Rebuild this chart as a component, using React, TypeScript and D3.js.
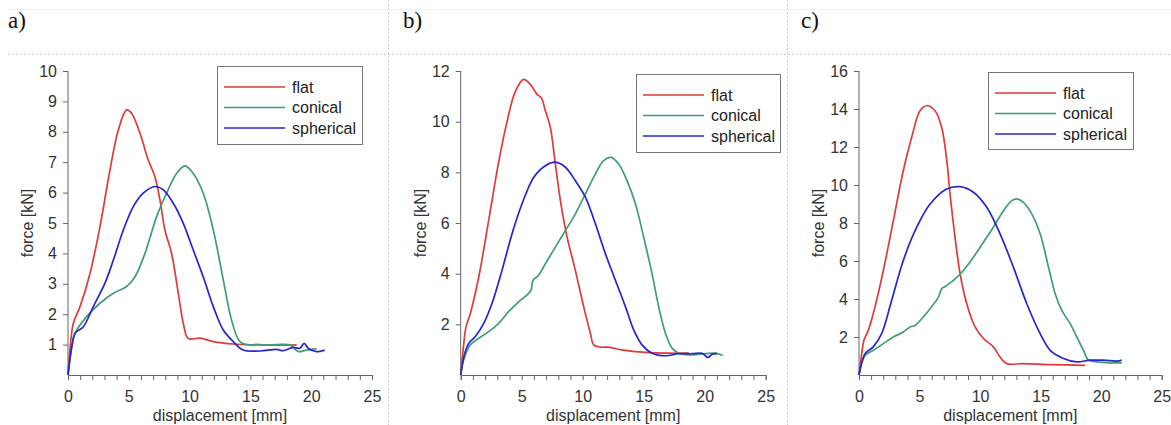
import React, { useEffect, useRef } from "react";
import * as d3 from "d3";

type Pt = [number, number];

// displacement [mm], force [kN]
const aFlat: Pt[] = [
  [0, 0], [0.2, 1.0], [0.44, 1.7], [0.99, 2.25], [1.81, 3.34], [2.63, 4.88], [3.45, 6.74],
  [4.14, 8.06], [4.82, 8.72], [5.23, 8.61], [5.92, 7.95], [6.6, 7.07], [7.15, 6.52],
  [7.56, 5.76], [7.97, 4.77], [8.52, 4.0], [9.07, 2.69], [9.48, 1.7], [9.89, 1.2],
  [10.85, 1.21], [11.95, 1.1], [13.59, 1.02], [15.78, 0.99], [17.4, 0.98], [18.8, 0.99],
];
const aConical: Pt[] = [
  [0, 0], [0.3, 0.9], [0.58, 1.37], [1.53, 1.92], [2.63, 2.36], [3.73, 2.69], [4.82, 2.91],
  [5.51, 3.23], [6.33, 4.0], [7.29, 5.21], [8.11, 5.98], [8.93, 6.63], [9.62, 6.88],
  [10.3, 6.63], [11.12, 5.98], [11.95, 4.77], [12.77, 3.13], [13.45, 1.81], [14.14, 1.1],
  [14.96, 0.99], [15.6, 1.01], [16.33, 0.98], [17.2, 1.0], [18.25, 0.99], [18.93, 0.77],
  [19.62, 0.82], [20.44, 0.86],
];
const aSpherical: Pt[] = [
  [0, 0], [0.3, 0.9], [0.58, 1.37], [1.26, 1.59], [2.08, 2.25], [3.04, 3.02], [3.73, 3.78],
  [4.55, 4.77], [5.37, 5.54], [6.19, 5.98], [7.15, 6.2], [7.84, 6.09], [8.66, 5.65],
  [9.48, 4.99], [10.3, 4.11], [11.12, 3.23], [11.95, 2.25], [12.77, 1.48], [13.59, 1.1],
  [14.41, 0.82], [15.78, 0.79], [17.15, 0.84], [17.7, 0.8], [18.52, 0.91], [19.07, 0.88],
  [19.42, 1.04], [19.75, 0.88], [20.44, 0.77], [21.12, 0.82],
];

const bFlat: Pt[] = [
  [0, 0], [0.2, 1.0], [0.44, 1.91], [0.79, 2.43], [1.48, 3.87], [2.3, 6.12], [3.11, 8.4],
  [3.8, 10.0], [4.48, 11.2], [5.16, 11.67], [5.71, 11.47], [6.26, 11.08], [6.61, 10.94],
  [6.94, 10.43], [7.35, 9.77], [7.76, 8.33], [8.17, 6.89], [8.72, 5.44], [9.4, 4.13],
  [10.08, 2.69], [10.63, 1.65], [10.9, 1.19], [11.45, 1.1], [12.13, 1.1], [13.22, 0.99],
  [15.14, 0.89], [17.05, 0.86], [18.69, 0.86],
];
const bConical: Pt[] = [
  [0, 0], [0.25, 0.6], [0.79, 1.19], [1.48, 1.45], [2.3, 1.71], [3.11, 2.04], [3.93, 2.5],
  [4.75, 2.89], [5.44, 3.16], [5.77, 3.35], [5.93, 3.74], [6.39, 3.94], [6.94, 4.39],
  [7.76, 5.05], [8.58, 5.7], [9.4, 6.36], [10.22, 7.15], [11.04, 7.94], [11.72, 8.46],
  [12.32, 8.59], [12.95, 8.33], [13.63, 7.67], [14.32, 6.76], [15.0, 5.44], [15.68, 4.0],
  [16.23, 2.69], [16.78, 1.65], [17.32, 1.06], [17.87, 0.86], [18.96, 0.79], [20.05, 0.84],
  [20.87, 0.86], [21.48, 0.77],
];
const bSpherical: Pt[] = [
  [0, 0], [0.3, 0.8], [0.66, 1.25], [1.2, 1.52], [1.89, 2.04], [2.57, 2.83], [3.39, 4.14],
  [4.21, 5.58], [5.03, 6.76], [5.98, 7.8], [6.94, 8.26], [7.76, 8.4], [8.58, 8.2],
  [9.4, 7.67], [10.22, 7.02], [11.04, 5.97], [11.86, 4.79], [12.68, 3.74], [13.5, 2.7],
  [14.18, 1.78], [14.86, 1.19], [15.68, 0.86], [16.78, 0.76], [17.87, 0.84], [18.96, 0.84],
  [19.78, 0.86], [20.27, 0.69], [20.6, 0.82], [21.0, 0.84],
];

const cFlat: Pt[] = [
  [0, 0], [0.2, 1.0], [0.41, 1.83], [0.77, 2.35], [1.32, 3.58], [2.01, 5.5], [2.84, 8.13],
  [3.66, 10.76], [4.35, 12.51], [5.04, 13.91], [5.59, 14.17], [6.28, 13.91], [6.83, 13.03],
  [7.25, 11.28], [7.52, 9.53], [7.93, 7.25], [8.35, 5.33], [8.9, 3.75], [9.59, 2.53],
  [10.28, 1.92], [11.1, 1.48], [11.65, 0.95], [12.2, 0.6], [13.58, 0.6], [15.79, 0.55],
  [18.68, 0.51],
];
const cConical: Pt[] = [
  [0, 0], [0.5, 1.03], [1.18, 1.3], [2.01, 1.65], [2.84, 2.0], [3.66, 2.26], [4.21, 2.53],
  [4.63, 2.61], [5.18, 2.96], [5.87, 3.49], [6.56, 4.1], [6.83, 4.54], [7.11, 4.66],
  [7.8, 4.98], [8.62, 5.5], [9.45, 6.2], [10.28, 6.99], [11.1, 7.78], [11.93, 8.65],
  [12.62, 9.18], [13.03, 9.27], [13.58, 9.09], [14.27, 8.48], [14.96, 7.43], [15.65, 5.68],
  [16.2, 4.28], [16.75, 3.4], [17.44, 2.7], [17.99, 2.0], [18.54, 1.3], [18.95, 0.78],
  [19.64, 0.69], [20.74, 0.64], [21.7, 0.64],
];
const cSpherical: Pt[] = [
  [0, 0], [0.5, 1.12], [1.18, 1.48], [1.87, 2.18], [2.7, 3.93], [3.66, 6.03], [4.77, 7.78],
  [5.87, 9.0], [7.25, 9.79], [8.35, 9.91], [9.45, 9.62], [10.55, 8.83], [11.65, 7.43],
  [12.75, 5.68], [13.86, 3.75], [14.96, 2.18], [15.79, 1.3], [16.89, 0.87], [17.99, 0.69],
  [19.09, 0.78], [20.19, 0.78], [21.3, 0.73], [21.7, 0.78],
];

const seriesNames = ["flat", "conical", "spherical"];
const seriesColors = ["#e03a3a", "#3f9e72", "#2626d0"];
const xTickLabels = [0, 5, 10, 15, 20, 25];
const aYTicks = [1, 2, 3, 4, 5, 6, 7, 8, 9, 10];
const bYTicks = [2, 4, 6, 8, 10, 12];
const cYTicks = [2, 4, 6, 8, 10, 12, 14, 16];
const panelLabels = ["a)", "b)", "c)"];

const panels = [
  { label: panelLabels[0], series: [aFlat, aConical, aSpherical], yTicks: aYTicks, yMax: 10,
    left: 68, right: 372, labelX: 8, legend: { x: 217, y: 66, w: 145, h: 78 } },
  { label: panelLabels[1], series: [bFlat, bConical, bSpherical], yTicks: bYTicks, yMax: 12,
    left: 460.7, right: 765.7, labelX: 403, legend: { x: 636, y: 74, w: 144, h: 78 } },
  { label: panelLabels[2], series: [cFlat, cConical, cSpherical], yTicks: cYTicks, yMax: 16,
    left: 859, right: 1161.7, labelX: 801, legend: { x: 988, y: 72, w: 145, h: 77 } },
];

const W = 1171;
const H = 425;
const top = 71;
const bottom = 375;
const sans = "Liberation Sans, Arial, sans-serif";

export default function App() {
  const ref = useRef<SVGSVGElement>(null);

  useEffect(() => {
    const svg = d3.select(ref.current);
    svg.selectAll("*").remove();

    // page frame: dashed separators
    svg.append("line").attr("x1", 8).attr("x2", W).attr("y1", 54.5).attr("y2", 54.5)
      .attr("stroke", "#c8c8c8").attr("stroke-dasharray", "2,2");
    [388.5, 787.5].forEach(x => {
      svg.append("line").attr("x1", x).attr("x2", x).attr("y1", 0).attr("y2", H)
        .attr("stroke", "#c8c8c8").attr("stroke-dasharray", "2,2");
    });
    svg.append("line").attr("x1", 8).attr("x2", W).attr("y1", 9.5).attr("y2", 9.5)
      .attr("stroke", "#f0f0f0");

    panels.forEach(p => {
      svg.append("text").attr("x", p.labelX).attr("y", 28)
        .attr("font-family", "Liberation Serif, Times New Roman, serif")
        .attr("font-size", 23).attr("fill", "#111").text(p.label);

      const x = d3.scaleLinear().domain([0, 25]).range([p.left, p.right]);
      const y = d3.scaleLinear().domain([0, p.yMax]).range([bottom, top]);
      const g = svg.append("g");

      // x axis with a tick every mm
      const xAxis = d3.axisBottom(x).tickValues(d3.range(0, 26)).tickSize(5)
        .tickFormat(d => (xTickLabels.includes(d as number) ? String(d) : ""));
      const gx = g.append("g").attr("transform", `translate(0,${bottom})`).call(xAxis);
      gx.select(".domain").attr("stroke", "#666");
      gx.selectAll(".tick line").attr("stroke", "#666");
      gx.selectAll(".tick text").attr("font-family", sans).attr("font-size", 16)
        .attr("fill", "#333").attr("dy", "1.2em");

      const yAxis = d3.axisLeft(y).tickValues(p.yTicks).tickSize(5).tickPadding(6);
      const gy = g.append("g").attr("transform", `translate(${p.left},0)`).call(yAxis);
      gy.select(".domain").attr("d", `M0,${bottom}V${top}`).attr("stroke", "#666");
      gy.selectAll(".tick line").attr("stroke", "#666");
      gy.selectAll(".tick text").attr("font-family", sans).attr("font-size", 16).attr("fill", "#333");

      const cx = (p.left + p.right) / 2;
      g.append("text").attr("x", cx).attr("y", 421).attr("text-anchor", "middle")
        .attr("font-family", sans).attr("font-size", 16).attr("fill", "#333")
        .text("displacement [mm]");
      g.append("text").attr("transform", `translate(${p.left - 35},${(top + bottom) / 2}) rotate(-90)`)
        .attr("text-anchor", "middle").attr("font-family", sans).attr("font-size", 16)
        .attr("fill", "#333").text("force [kN]");

      const line = d3.line<Pt>().x(d => x(d[0])).y(d => y(d[1])).curve(d3.curveCatmullRom.alpha(0.5));
      p.series.forEach((s, i) => {
        g.append("path").attr("d", line(s)).attr("fill", "none")
          .attr("stroke", seriesColors[i]).attr("stroke-width", 1.7);
      });

      // legend
      const L = p.legend;
      g.append("rect").attr("x", L.x + 0.5).attr("y", L.y + 0.5).attr("width", L.w).attr("height", L.h)
        .attr("fill", "#fff").attr("stroke", "#777");
      seriesNames.forEach((n, i) => {
        const ry = L.y + 21 + i * 20.5;
        g.append("line").attr("x1", L.x + 7).attr("x2", L.x + 68).attr("y1", ry).attr("y2", ry)
          .attr("stroke", seriesColors[i]).attr("stroke-width", 1.7);
        g.append("text").attr("x", L.x + 75).attr("y", ry).attr("dy", "0.35em")
          .attr("font-family", sans).attr("font-size", 16).attr("fill", "#222").text(n);
      });
    });
  }, []);

  return (
    <svg ref={ref} width={W} height={H}
      style={{ position: "absolute", left: 0, top: 0, background: "#fff" }} />
  );
}
